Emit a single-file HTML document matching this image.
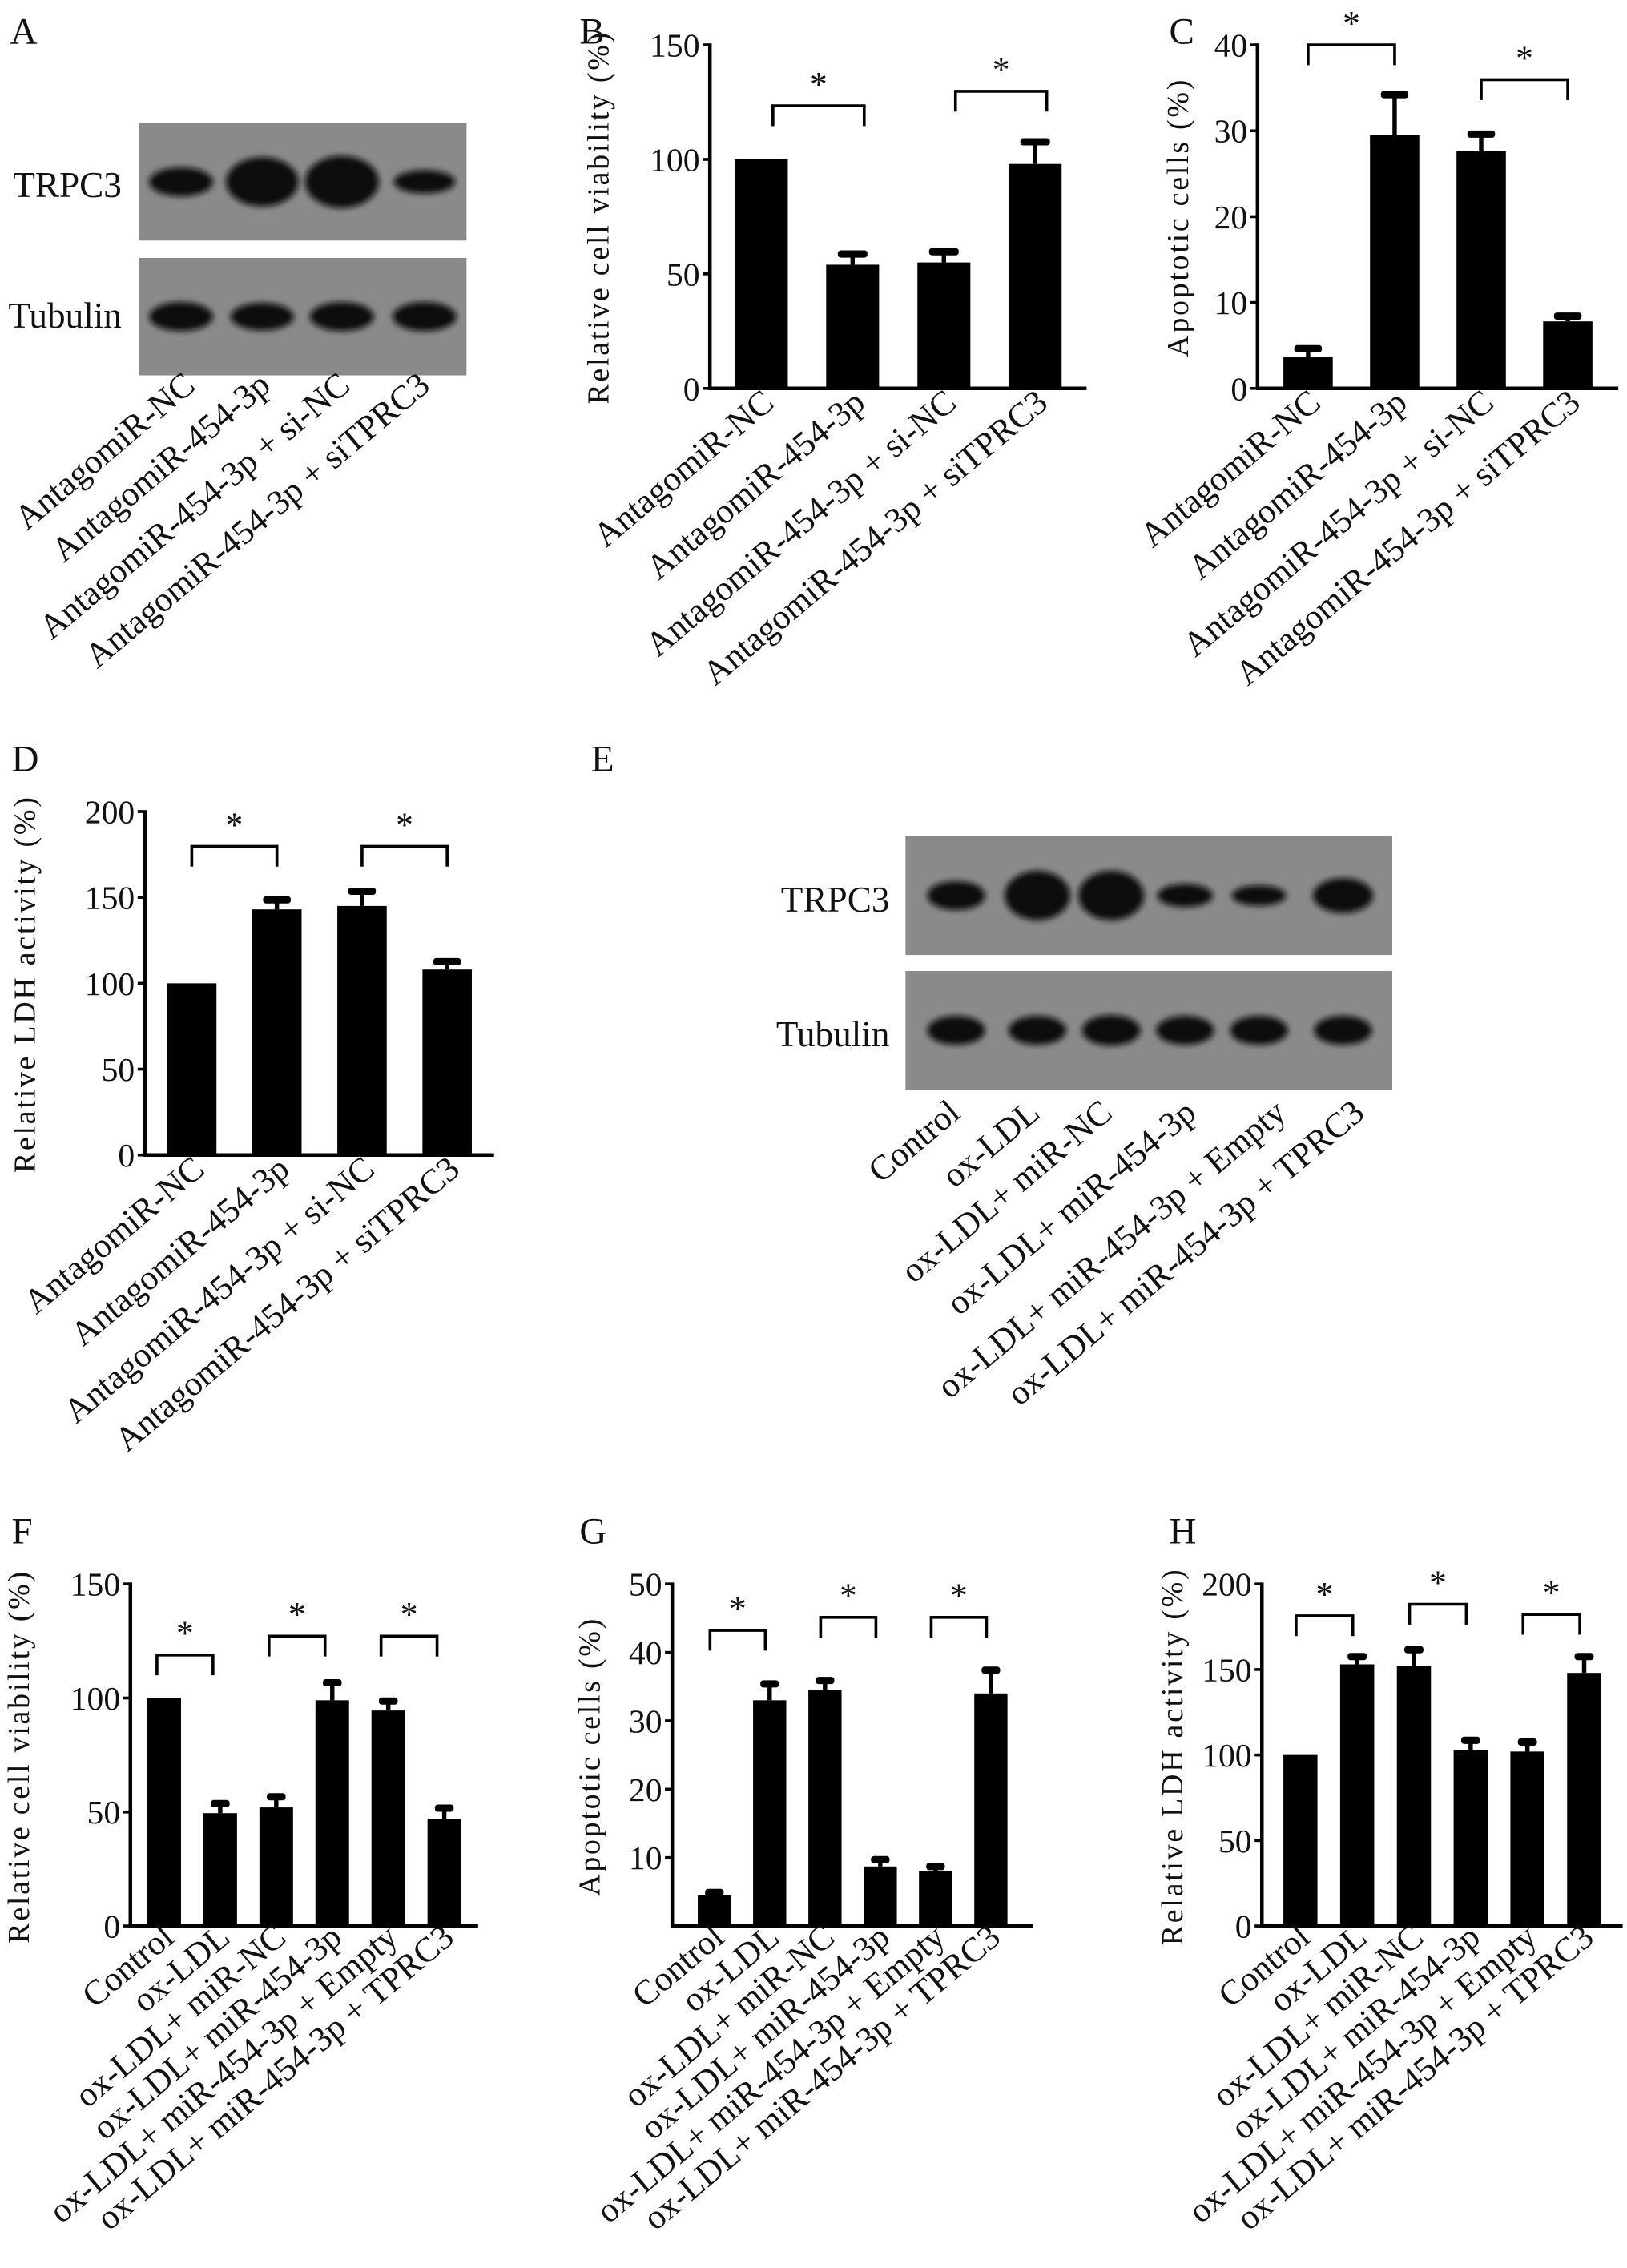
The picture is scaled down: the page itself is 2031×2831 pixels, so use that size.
<!DOCTYPE html>
<html><head><meta charset="utf-8">
<style>
html,body{margin:0;padding:0;background:#fff;}
svg{display:block;}
text{font-family:"Liberation Serif",serif;fill:#111;}
</style></head>
<body>
<svg id="fig" width="2031" height="2831" viewBox="0 0 1123 1565" preserveAspectRatio="none" xmlns="http://www.w3.org/2000/svg">
<defs><filter id="blur" x="-30%" y="-60%" width="160%" height="220%"><feGaussianBlur stdDeviation="2"/></filter></defs>
<rect width="1123" height="1565" fill="#fff"/>
<g id="root"></g>
</svg>
<script>
// ---- data ----
const catsA = ["AntagomiR-NC","AntagomiR-454-3p","AntagomiR-454-3p + si-NC","AntagomiR-454-3p + siTPRC3"];
const catsE = ["Control","ox-LDL","ox-LDL+ miR-NC","ox-LDL+ miR-454-3p","ox-LDL+ miR-454-3p + Empty","ox-LDL+ miR-454-3p + TPRC3"];
const valsB = [100, 54, 55, 98];
const errB = [100, 59, 60, 108];
const ticksB = [0, 50, 100, 150];
const valsC = [3.7, 29.5, 27.6, 7.8];
const errC = [4.7, 34.3, 29.7, 8.5];
const ticksC = [0, 10, 20, 30, 40];
const valsD = [100, 143, 145, 108];
const errD = [100, 149, 154, 113];
const ticksD = [0, 50, 100, 150, 200];
const valsF = [100, 49.5, 52, 99, 94.5, 47];
const errF = [100, 54, 57, 107, 99, 52];
const ticksF = [0, 50, 100, 150];
const valsG = [4.5, 33, 34.5, 8.7, 8, 34];
const errG = [5, 35.5, 36, 9.8, 8.8, 37.5];
const ticksG = [10, 20, 30, 40, 50];
const valsH = [100, 153, 152, 103, 102, 148];
const errH = [100, 158, 162, 109, 108, 158];
const ticksH = [0, 50, 100, 150, 200];
const bandsA1 = [1.0, 1.7, 1.8, 0.8];
const bandsA2 = [1.0, 0.95, 1.0, 1.0];
const bandsE1 = [1.0, 1.7, 1.7, 0.8, 0.7, 1.2];
const bandsE2 = [1.0, 1.0, 1.05, 1.0, 1.0, 1.0];

const NS = "http://www.w3.org/2000/svg";
const root = document.getElementById('root');
function mk(tag, attrs, parent, txt){
  const e = document.createElementNS(NS, tag);
  for (const k in attrs) e.setAttribute(k, attrs[k]);
  if (txt !== undefined) e.textContent = txt;
  (parent||root).appendChild(e);
  return e;
}

function panelLetter(ch, x, y){
  const t = mk('text', {x:x, y:y, 'font-size':26}, root, ch);
  
  
}

function catLabels(g, cats, xs, yTop, prefix){
  cats.forEach((c,i)=>{
    const t = mk('text', {x:xs[i], y:yTop, 'font-size':24, 'text-anchor':'end',
      transform:'rotate(-40 '+xs[i]+' '+yTop+')'}, g, c);
    
    
  });
}

function chart(cfg){
  const g = mk('g', {});
  
  
  const yS = v => cfg.y0 - (v - cfg.min) / (cfg.max - cfg.min) * (cfg.y0 - cfg.y1);
  const n = cfg.vals.length;
  const x0 = cfg.ax, x1 = cfg.axEnd;
  const pad = cfg.pad, slot = (x1 - x0 - pad) / n, bw = slot * cfg.bwf;
  const cx = i => x0 + pad/2 + slot*(i+0.5);
  const ya = mk('line', {x1:x0, y1:cfg.y1-1, x2:x0, y2:cfg.y0, stroke:'#000', 'stroke-width':2.5}, g);
   
  const xa = mk('line', {x1:x0-1, y1:cfg.y0, x2:x1, y2:cfg.y0, stroke:'#000', 'stroke-width':2.5}, g);
   
  cfg.ticks.forEach(t=>{
    const y = yS(t);
    const tk = mk('line', {x1:x0-5, y1:y, x2:x0, y2:y, stroke:'#000', 'stroke-width':2}, g);
     
    const tl = mk('text', {x:x0-7, y:y+8, 'font-size':23, 'text-anchor':'end'}, g, String(t));
     
  });
  const tt = mk('text', {x:cfg.tx, y:cfg.ty, 'font-size':21, 'text-anchor':'middle', 'letter-spacing':'1.5',
    transform:'rotate(-90 '+cfg.tx+' '+cfg.ty+')'}, g, cfg.title);
   
  cfg.vals.forEach((v,i)=>{
    const e = cfg.err[i];
    if (e > v) {
      const el = mk('line', {x1:cx(i), y1:yS(v), x2:cx(i), y2:yS(e), stroke:'#000', 'stroke-width':3}, g);
       
      const cap = mk('rect', {x:cx(i)-bw*0.28, y:yS(e)-2, width:bw*0.56, height:5, rx:2, fill:'#000'}, g);
       
    }
    const b = mk('rect', {x:cx(i)-bw/2, y:yS(v), width:bw, height:cfg.y0 - yS(v), fill:'#000'}, g);
    
    
  });
  cfg.brackets.forEach(br=>{
    const [a, b, y, drop] = br;
    const xa1 = cx(a) + cfg.brOff, xb = cx(b) + cfg.brOff;
    const p = mk('path', {d:'M'+xa1+' '+(y+drop)+' V'+y+' H'+xb+' V'+(y+drop), fill:'none', stroke:'#000', 'stroke-width':2}, g);
     
    const s = mk('text', {x:(xa1+xb)/2, y:y-7, 'font-size':24, 'text-anchor':'middle'}, g, '*');
     
  });
  const xs = cfg.vals.map((v,i)=>cx(i)+cfg.lblOff);
  catLabels(g, cfg.cats, xs, cfg.y0 + cfg.lblY, cfg.name);
}

function blot(name, x, y1, y2, w, h, lanes, b1, b2, bandW){
  const g = mk('g', {});
  
  
  [y1, y2].forEach((yy, k)=>{
    const r = mk('rect', {x:x, y:yy, width:w, height:h, fill:'#8a8a8a'}, g);
    
    
    const arr = k===0 ? b1 : b2;
    arr.forEach((s,i)=>{
      const cy = yy + h*0.5;
      const e = mk('ellipse', {cx:lanes[i], cy:cy, rx:bandW*(0.85+0.2*s), ry:10*s, fill:'#0c0c0c', filter:'url(#blur)'}, g);
      
      
    });
  });
}

function sideLabel(txt, x, y, name){
  const t = mk('text', {x:x, y:y, 'font-size':25, 'text-anchor':'end'}, root, txt);
  
  
}

// ---- Panel A ----
panelLetter('A', 7, 30);
blot('western-blot-a', 96, 85, 178, 226, 81, [125,181,236,293], bandsA1, bandsA2, 21);
sideLabel('TRPC3', 84, 136, 'trpc3-label');
sideLabel('Tubulin', 84, 226, 'tubulin-label');
catLabels(root, catsA, [136,188,243,298], 268, 'blot-a');

// ---- Panel B ----
panelLetter('B', 400, 30);
chart({name:'chart-b', vals:valsB, err:errB, ticks:ticksB, cats:catsA, min:0, max:150, y0:268, y1:31,
  ax:490, axEnd:750, pad:8, bwf:0.58, title:'Relative cell  viability (%)', tx:420, ty:150,
  brackets:[[0,1,73,14],[2,3,63,14]], brOff:8, lblOff:10, lblY:12});

// ---- Panel C ----
panelLetter('C', 807, 30);
chart({name:'chart-c', vals:valsC, err:errC, ticks:ticksC, cats:catsA, min:0, max:40, y0:268, y1:31,
  ax:868, axEnd:1117, pad:10, bwf:0.57, title:'Apoptotic cells (%)', tx:820, ty:150,
  brackets:[[0,1,31,14],[2,3,55,14]], brOff:0, lblOff:10, lblY:12});

// ---- Panel D ----
panelLetter('D', 8, 532);
chart({name:'chart-d', vals:valsD, err:errD, ticks:ticksD, cats:catsA, min:0, max:200, y0:797, y1:560,
  ax:100, axEnd:341, pad:6, bwf:0.58, title:'Relative LDH activity (%)', tx:24, ty:679,
  brackets:[[0,1,584,14],[2,3,584,14]], brOff:0, lblOff:10, lblY:12});

// ---- Panel E ----
panelLetter('E', 408, 532);
blot('western-blot-e', 625, 577, 670, 336, 82, [660,716,767,818,869,927], bandsE1, bandsE2, 19);
sideLabel('TRPC3', 614, 629, 'trpc3-label-e');
sideLabel('Tubulin', 614, 722, 'tubulin-label-e');
catLabels(root, catsE, [664,719,769,827,889,943], 770, 'blot-e');

// ---- Panel F ----
panelLetter('F', 8, 1065);
chart({name:'chart-f', vals:valsF, err:errF, ticks:ticksF, cats:catsE, min:0, max:150, y0:1329, y1:1093,
  ax:90, axEnd:330, pad:8, bwf:0.6, title:'Relative cell  viability (%)', tx:20, ty:1212,
  brackets:[[0,1,1142,14],[2,3,1129,14],[4,5,1129,14]], brOff:-5, lblOff:8, lblY:10});

// ---- Panel G ----
panelLetter('G', 400, 1065);
chart({name:'chart-g', vals:valsG, err:errG, ticks:ticksG, cats:catsE, min:0, max:50, y0:1329, y1:1093,
  ax:464, axEnd:713, pad:20, bwf:0.6, title:'Apoptotic cells (%)', tx:414, ty:1212,
  brackets:[[0,1,1125,14],[2,3,1116,14],[4,5,1116,14]], brOff:-3, lblOff:8, lblY:10});

// ---- Panel H ----
panelLetter('H', 807, 1065);
chart({name:'chart-h', vals:valsH, err:errH, ticks:ticksH, cats:catsE, min:0, max:200, y0:1329, y1:1093,
  ax:871, axEnd:1120, pad:14, bwf:0.6, title:'Relative LDH activity (%)', tx:816, ty:1212,
  brackets:[[0,1,1115,14],[2,3,1107,14],[4,5,1114,14]], brOff:-3, lblOff:8, lblY:10});
</script>
</body></html>
